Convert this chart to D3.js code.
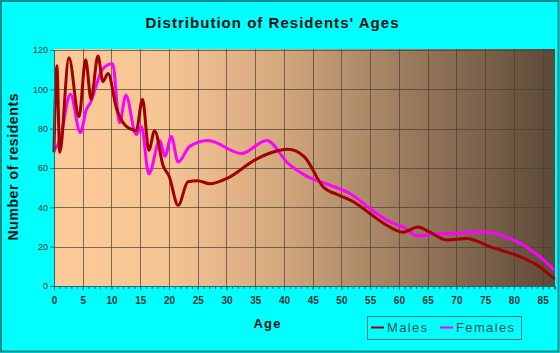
<!DOCTYPE html>
<html>
<head>
<meta charset="utf-8">
<script src="https://d3js.org/d3.v7.min.js"></script>
<style>
body { margin: 0; background: #fff; }
text { font-family: Arial, "Liberation Sans", sans-serif; }
</style>
</head>
<body>
<div id="chart"></div>
<script>
// values: [age, residents]
var males = [[0,68],[0.5,112],[1,68],[2.6,116],[4.35,86],[5.5,115],[6.45,95],[7.65,117],[8.5,104],[9.4,108],
    [10.9,90],[12.3,82],[13.2,80],[14.3,79],[15.4,95],[16.5,69],[17.5,79],[19,61],[20,56],[21.6,41],
    [23.3,53],[25,53.5],[27.1,52],[30.3,55],[34.9,64],[37.5,67.5],[40.7,69.5],[43.6,65.5],[46.8,50.5],
    [49.7,46],[52,43],[54.9,37],[57.8,31],[60.7,27.3],[63.3,30],[65.3,27.5],[68.3,23.4],[71.8,24.2],
    [75.8,20],[81,15],[84,10.7],[87.1,3.5]];
var females = [[0,69],[1,74],[2.85,97.5],[4.6,78],[5.6,89.5],[6.3,93],[8.5,110.5],[10.2,113],[11.4,83],
    [12.5,97],[14.3,77],[15.2,81],[16.5,57],[18.4,74],[19.3,66],[20.4,76],[21.6,63],[23.6,71],[26.8,74],
    [32.6,67.4],[37,74],[40.7,62.4],[43.6,56.4],[48,51.3],[51.5,47],[54.9,39.5],[58.4,32.7],[60.7,30],
    [63.3,25.4],[66,26.4],[70,26.8],[74.6,27.6],[79.9,23.4],[83.4,17.4],[87.1,8]];
var xTicks = d3.range(0, 86, 5);
var yTicks = [0, 20, 40, 60, 80, 100, 120];
var seriesNames = ["Males", "Females"];
var colours = ["#a00000", "#ff00ff"];

var width = 560, height = 353;
var margin = { top: 49, right: 5, bottom: 67, left: 54 };

var svg = d3.select("#chart")
    .append("svg")
    .attr("width", width)
    .attr("height", height);

svg.append("rect")
    .attr("width", width).attr("height", height)
    .style("fill", "#00ffff");
svg.append("rect")
    .attr("x", 1).attr("y", 1)
    .attr("width", width - 2.5).attr("height", height - 2.5)
    .style("fill", "none")
    .style("stroke", "#0e8c8c")
    .style("stroke-width", 2);

var defs = svg.append("defs");
var grad = defs.append("linearGradient").attr("id", "bg");
[["0%", "#fccb99"], ["22%", "#f6c594"], ["45%", "#d4a87e"], ["70%", "#9c7c5e"], ["100%", "#5c4938"]]
    .forEach(function(s){ grad.append("stop").attr("offset", s[0]).attr("stop-color", s[1]); });

var x = d3.scaleLinear().domain([0, 87.15]).range([margin.left, width - margin.right]);
var y = d3.scaleLinear().domain([0, 120]).range([height - margin.bottom, margin.top + 1]);

svg.append("rect")
    .attr("x", x(0)).attr("y", margin.top)
    .attr("width", x(87.15) - x(0)).attr("height", y(0) - margin.top)
    .style("fill", "url(#bg)");

// grid
var g = svg.append("g");
g.selectAll(".hgrid").data(yTicks.slice(1)).enter().append("line")
    .attr("x1", x(0)).attr("x2", x(87.15))
    .attr("y1", function(d){ return Math.round(y(d)) + 0.5; })
    .attr("y2", function(d){ return Math.round(y(d)) + 0.5; })
    .style("stroke", "#4a3e34").style("stroke-opacity", 0.7);
g.selectAll(".vgrid").data(xTicks.slice(1)).enter().append("line")
    .attr("y1", y(0)).attr("y2", margin.top)
    .attr("x1", function(d){ return Math.round(x(d)) + 0.5; })
    .attr("x2", function(d){ return Math.round(x(d)) + 0.5; })
    .style("stroke", "#4a3e34").style("stroke-opacity", 0.7);

// lines
var line = d3.line()
    .x(function(d){ return x(d[0]); })
    .y(function(d){ return y(d[1]); })
    .curve(d3.curveMonotoneX);

svg.append("path").datum(females)
    .attr("d", line)
    .style("fill", "none").style("stroke", colours[1]).style("stroke-width", 3);
svg.append("path").datum(males)
    .attr("d", line)
    .style("fill", "none").style("stroke", colours[0]).style("stroke-width", 3);

// axes
var yAxis = svg.append("g")
    .attr("transform", "translate(" + x(0) + ",0)")
    .call(d3.axisLeft(y).tickValues(yTicks).tickSize(4).tickPadding(2));
var xMinor = svg.append("g")
    .attr("transform", "translate(0," + y(0) + ")")
    .call(d3.axisBottom(x).tickValues(d3.range(0, 88, 1)).tickSize(3).tickFormat(""));
var xAxis = svg.append("g")
    .attr("transform", "translate(0," + y(0) + ")")
    .call(d3.axisBottom(x).tickValues(xTicks).tickSize(4).tickPadding(7));

[yAxis, xMinor, xAxis].forEach(function(a){
    a.select(".domain").style("stroke", "#1f6b6b");
    a.selectAll(".tick line").style("stroke", "#1f6b6b");
});
yAxis.selectAll("text").style("font-size", "9px").style("fill", "#333");
xAxis.selectAll("text").style("font-size", "10px").style("font-weight", "bold").style("fill", "#333");

// titles
svg.append("text")
    .attr("x", 272).attr("y", 28)
    .attr("text-anchor", "middle")
    .attr("textLength", 253).attr("lengthAdjust", "spacing")
    .style("font-size", "15px").style("font-weight", "bold").style("fill", "#111")
    .text("Distribution of Residents' Ages");
svg.append("text")
    .attr("transform", "translate(18,167) rotate(-90)")
    .attr("text-anchor", "middle")
    .attr("textLength", 147).attr("lengthAdjust", "spacing")
    .style("font-size", "14px").style("font-weight", "bold").style("fill", "#111")
    .text("Number of residents");
svg.append("text")
    .attr("x", 267).attr("y", 328)
    .attr("text-anchor", "middle")
    .attr("textLength", 27).attr("lengthAdjust", "spacing")
    .style("font-size", "13px").style("font-weight", "bold").style("fill", "#111")
    .text("Age");

// legend
var legend = svg.append("g").attr("transform", "translate(367,316)");
legend.append("rect")
    .attr("x", 0.5).attr("y", 0.5).attr("width", 154).attr("height", 23)
    .style("fill", "none").style("stroke", "#1f7b7b");
var legX = [4, 73], legTextW = [40, 58];
seriesNames.forEach(function(name, i){
    legend.append("line")
        .attr("x1", legX[i]).attr("x2", legX[i] + 13)
        .attr("y1", 11.5).attr("y2", 11.5)
        .style("stroke", colours[i]).style("stroke-width", 2);
    legend.append("text")
        .attr("x", legX[i] + 16).attr("y", 16)
        .attr("textLength", legTextW[i]).attr("lengthAdjust", "spacing")
        .style("font-size", "13px").style("fill", "#1d4f4f")
        .text(name);
});
</script>
</body>
</html>
